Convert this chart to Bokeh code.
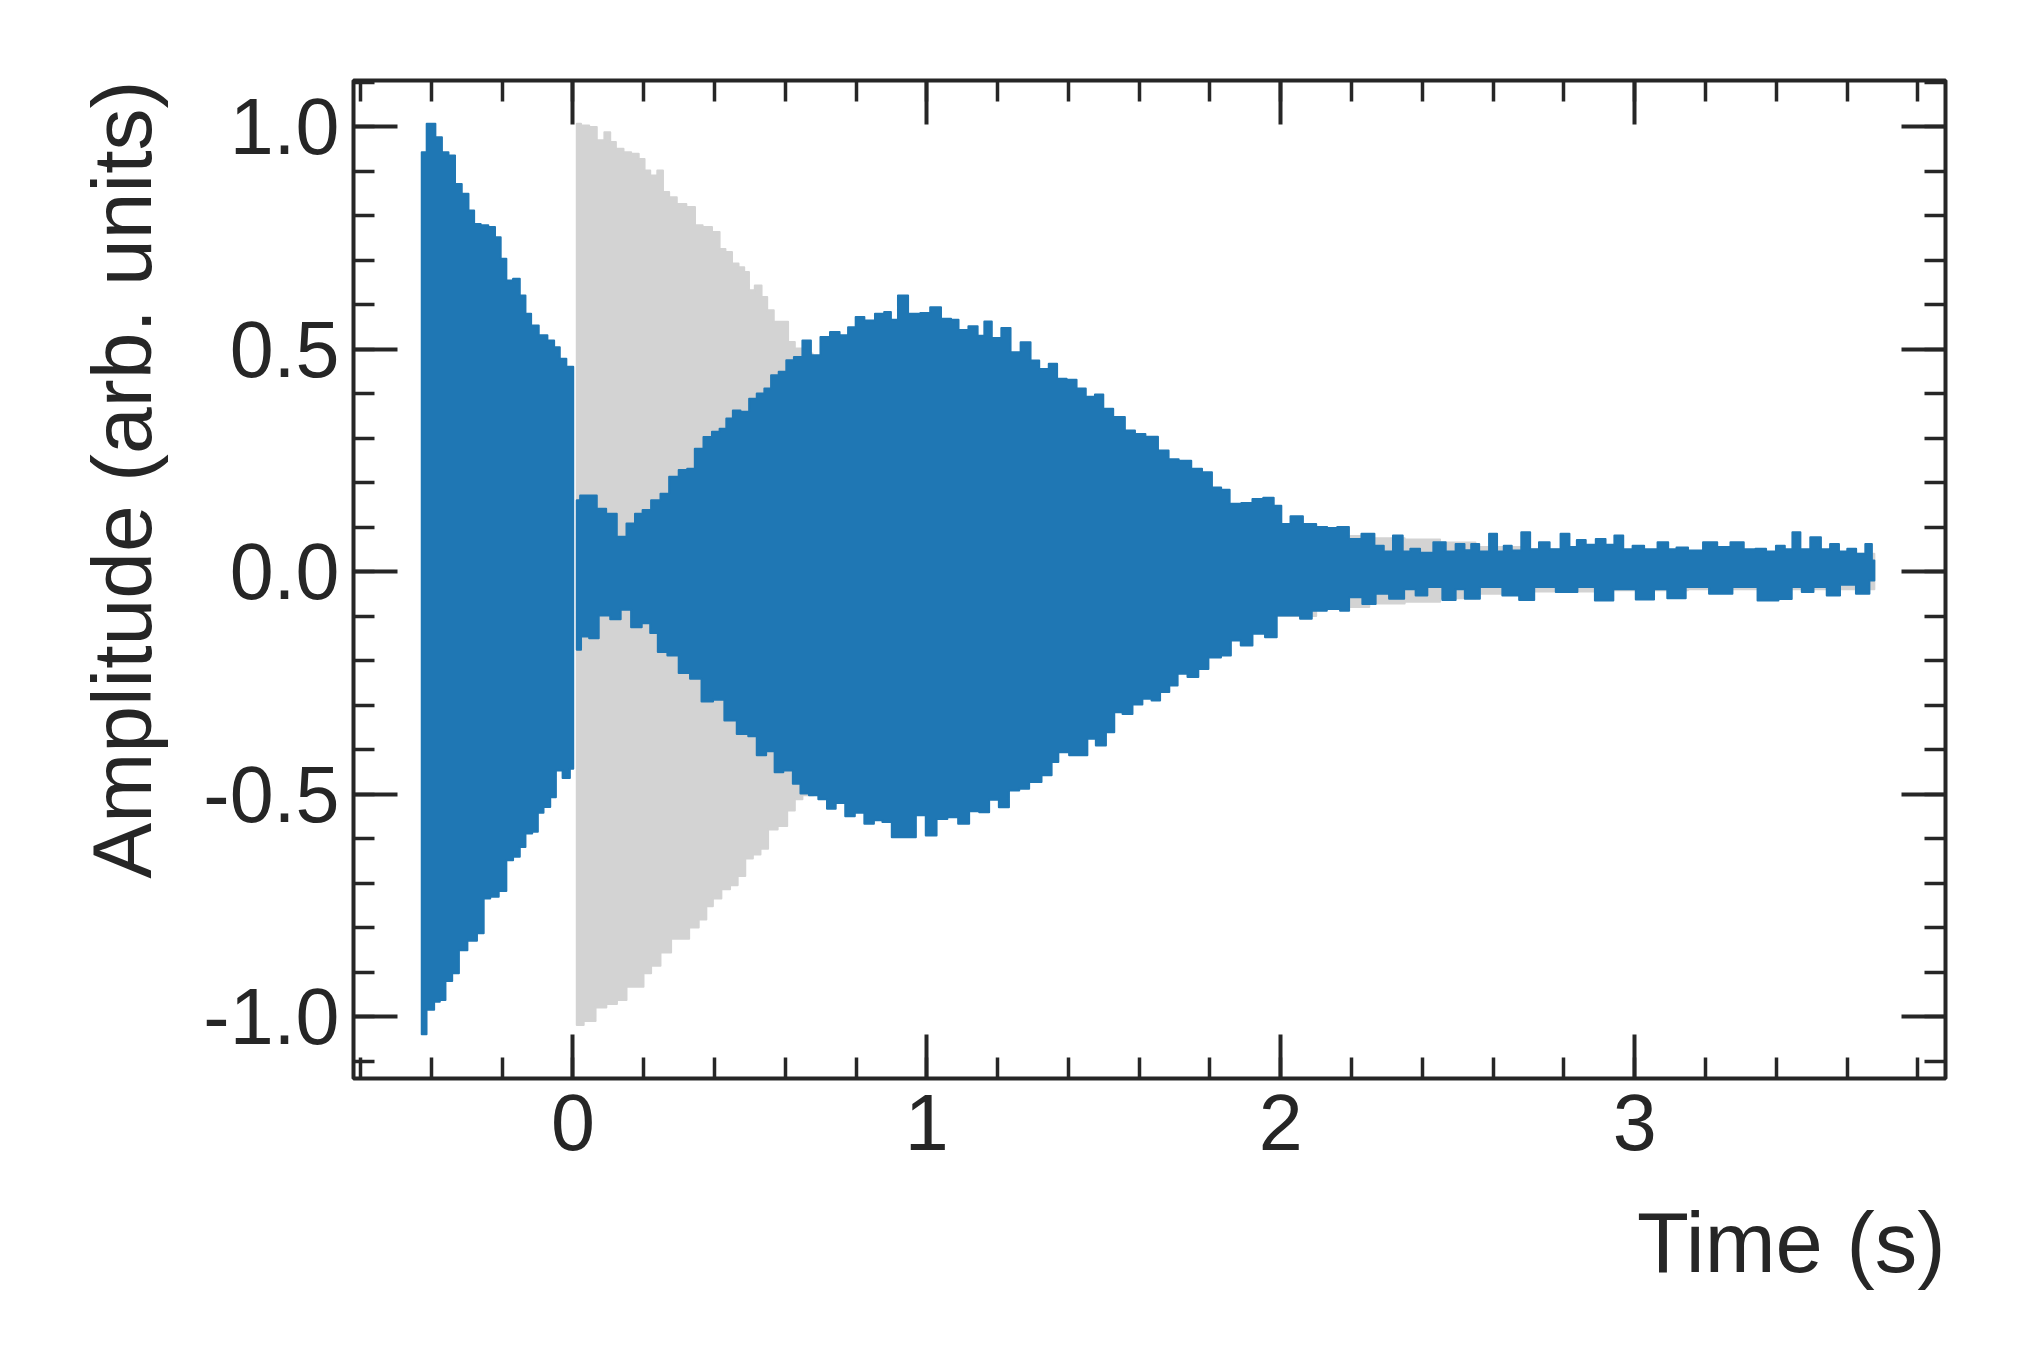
import numpy as np
from bokeh.plotting import figure
from bokeh.models import Range1d, FixedTicker, LinearAxis, Title, CustomJSTickFormatter
from bokeh.embed import file_html
from bokeh.resources import INLINE

# ---------------- data (envelopes) ----------------
# Blue signal, part before t = 0
blue_pre_t_up = [-0.427, -0.399, -0.378, -0.362, -0.341, -0.325, -0.303, -0.287, -0.271, -0.250,
                 -0.228, -0.212, -0.196, -0.180, -0.158, -0.142, -0.126, -0.110, -0.083, -0.061,
                 -0.045, -0.029, -0.008, 0.001]
blue_pre_up = [0.942, 1.006, 0.976, 0.942, 0.935, 0.871, 0.849, 0.811, 0.781, 0.778,
               0.774, 0.751, 0.703, 0.654, 0.658, 0.620, 0.579, 0.553, 0.531, 0.519,
               0.504, 0.478, 0.460, 0.460]
blue_pre_t_lo = [-0.427, -0.400, -0.384, -0.368, -0.352, -0.330, -0.314, -0.282, -0.260, -0.244,
                 -0.223, -0.196, -0.180, -0.158, -0.142, -0.126, -0.104, -0.094, -0.072, -0.056,
                 -0.040, -0.018, 0.001]
blue_pre_lo = [-1.040, -0.985, -0.967, -0.963, -0.920, -0.903, -0.851, -0.830, -0.813, -0.735,
               -0.731, -0.718, -0.649, -0.641, -0.619, -0.589, -0.585, -0.542, -0.529, -0.507,
               -0.447, -0.464, -0.443]

# Blue signal, part after t = 0
blue_post_t_up = [0.011, 0.030, 0.057, 0.078, 0.110, 0.138, 0.165, 0.186, 0.208, 0.234,
                  0.261, 0.283, 0.315, 0.331, 0.358, 0.380, 0.406, 0.423, 0.444, 0.460,
                  0.487, 0.509, 0.530, 0.552, 0.568, 0.595, 0.611, 0.638, 0.659, 0.686,
                  0.713, 0.740, 0.767, 0.788, 0.810, 0.837, 0.870, 0.889, 0.908, 0.929,
                  0.965, 0.998, 1.021, 1.059, 1.078, 1.101, 1.134, 1.153, 1.172, 1.195,
                  1.226, 1.247, 1.283, 1.303, 1.332, 1.357, 1.379, 1.411, 1.435, 1.463,
                  1.487, 1.510, 1.543, 1.576, 1.600, 1.635, 1.671, 1.695, 1.728, 1.766,
                  1.789, 1.822, 1.841, 1.870, 1.907, 1.933, 1.968, 1.992, 2.011, 2.044,
                  2.081, 2.119, 2.143, 2.176, 2.209, 2.247, 2.282, 2.300, 2.334, 2.355,
                  2.377, 2.410, 2.452, 2.480, 2.508, 2.530, 2.546, 2.575, 2.602, 2.620,
                  2.640, 2.665, 2.694, 2.715, 2.744, 2.775, 2.806, 2.825, 2.848, 2.875,
                  2.905, 2.930, 2.955, 2.980, 3.008, 3.045, 3.084, 3.105, 3.131, 3.170,
                  3.216, 3.250, 3.291, 3.325, 3.357, 3.385, 3.413, 3.435, 3.456, 3.480,
                  3.512, 3.540, 3.564, 3.590, 3.611, 3.640, 3.663, 3.677]
blue_post_up = [0.160, 0.171, 0.171, 0.141, 0.130, 0.078, 0.108, 0.130, 0.138, 0.160,
                0.175, 0.213, 0.228, 0.231, 0.276, 0.302, 0.314, 0.321, 0.344, 0.362,
                0.359, 0.388, 0.400, 0.411, 0.441, 0.449, 0.475, 0.482, 0.519, 0.486,
                0.527, 0.538, 0.531, 0.549, 0.572, 0.564, 0.579, 0.583, 0.566, 0.620,
                0.579, 0.581, 0.594, 0.568, 0.566, 0.543, 0.551, 0.530, 0.562, 0.525,
                0.547, 0.493, 0.515, 0.474, 0.455, 0.467, 0.433, 0.431, 0.411, 0.393,
                0.398, 0.366, 0.347, 0.317, 0.309, 0.303, 0.272, 0.252, 0.249, 0.231,
                0.223, 0.189, 0.184, 0.152, 0.154, 0.163, 0.166, 0.148, 0.107, 0.124,
                0.107, 0.100, 0.098, 0.100, 0.073, 0.085, 0.058, 0.045, 0.081, 0.045,
                0.051, 0.042, 0.066, 0.045, 0.062, 0.048, 0.062, 0.045, 0.085, 0.045,
                0.058, 0.047, 0.088, 0.050, 0.066, 0.050, 0.085, 0.055, 0.071, 0.060,
                0.073, 0.060, 0.081, 0.050, 0.058, 0.050, 0.066, 0.050, 0.054, 0.047,
                0.066, 0.055, 0.066, 0.050, 0.051, 0.045, 0.058, 0.050, 0.088, 0.050,
                0.077, 0.050, 0.062, 0.045, 0.051, 0.040, 0.062, 0.025]
blue_post_t_lo = [0.011, 0.035, 0.057, 0.089, 0.122, 0.148, 0.181, 0.208, 0.229, 0.251,
                  0.283, 0.315, 0.347, 0.380, 0.412, 0.444, 0.482, 0.509, 0.530, 0.562,
                  0.578, 0.611, 0.632, 0.654, 0.680, 0.707, 0.729, 0.756, 0.783, 0.810,
                  0.837, 0.864, 0.885, 0.917, 0.955, 0.983, 1.011, 1.044, 1.072, 1.105,
                  1.134, 1.162, 1.190, 1.217, 1.247, 1.275, 1.303, 1.345, 1.360, 1.383,
                  1.421, 1.444, 1.463, 1.492, 1.520, 1.539, 1.567, 1.595, 1.623, 1.647,
                  1.671, 1.699, 1.718, 1.755, 1.779, 1.812, 1.850, 1.868, 1.906, 1.934,
                  1.977, 2.000, 2.038, 2.071, 2.104, 2.156, 2.179, 2.207, 2.254, 2.282,
                  2.330, 2.367, 2.395, 2.433, 2.480, 2.508, 2.532, 2.593, 2.659, 2.688,
                  2.744, 2.810, 2.866, 2.909, 2.970, 3.036, 3.073, 3.111, 3.177, 3.243,
                  3.309, 3.385, 3.427, 3.460, 3.484, 3.526, 3.559, 3.601, 3.649, 3.677]
blue_post_lo = [-0.176, -0.146, -0.150, -0.099, -0.107, -0.086, -0.125, -0.116, -0.138, -0.181,
                -0.189, -0.228, -0.241, -0.292, -0.288, -0.335, -0.365, -0.370, -0.413, -0.404,
                -0.451, -0.447, -0.477, -0.499, -0.503, -0.512, -0.533, -0.520, -0.550, -0.542,
                -0.567, -0.559, -0.563, -0.597, -0.597, -0.548, -0.593, -0.556, -0.552, -0.567,
                -0.539, -0.541, -0.513, -0.530, -0.492, -0.488, -0.473, -0.458, -0.428, -0.406,
                -0.413, -0.413, -0.376, -0.391, -0.361, -0.316, -0.320, -0.299, -0.286, -0.290,
                -0.271, -0.256, -0.230, -0.237, -0.219, -0.193, -0.189, -0.155, -0.166, -0.140,
                -0.148, -0.099, -0.099, -0.106, -0.088, -0.084, -0.088, -0.058, -0.073, -0.050,
                -0.061, -0.040, -0.054, -0.035, -0.064, -0.040, -0.061, -0.035, -0.054, -0.064,
                -0.035, -0.046, -0.035, -0.065, -0.040, -0.063, -0.040, -0.060, -0.035, -0.050,
                -0.035, -0.065, -0.062, -0.035, -0.046, -0.035, -0.054, -0.030, -0.050, -0.020]

# Grey reference signal (starts at t = 0)
grey_t_up = [0.011, 0.035, 0.057, 0.078, 0.100, 0.111, 0.132, 0.154, 0.175, 0.197,
             0.208, 0.229, 0.248, 0.261, 0.283, 0.304, 0.337, 0.353, 0.380, 0.406,
             0.423, 0.439, 0.460, 0.476, 0.492, 0.503, 0.525, 0.541, 0.557, 0.578,
             0.600, 0.616, 0.638, 0.654, 0.700, 0.800, 0.900, 1.000, 1.200, 1.400,
             1.600, 1.800, 2.000, 2.200, 2.300, 2.400, 2.500, 2.600, 2.800, 3.000,
             3.300, 3.677]
grey_up = [1.006, 1.002, 0.999, 0.969, 0.987, 0.965, 0.950, 0.942, 0.939, 0.927,
           0.901, 0.890, 0.901, 0.853, 0.841, 0.826, 0.819, 0.778, 0.774, 0.763,
           0.725, 0.718, 0.692, 0.684, 0.673, 0.632, 0.643, 0.617, 0.587, 0.561,
           0.561, 0.516, 0.501, 0.490, 0.470, 0.420, 0.380, 0.340, 0.280, 0.220,
           0.180, 0.130, 0.100, 0.080, 0.075, 0.072, 0.065, 0.055, 0.050, 0.045,
           0.042, 0.040]
grey_t_lo = [0.011, 0.050, 0.078, 0.111, 0.138, 0.165, 0.191, 0.208, 0.234, 0.261,
             0.294, 0.315, 0.342, 0.369, 0.385, 0.406, 0.433, 0.455, 0.476, 0.498,
             0.519, 0.541, 0.562, 0.595, 0.616, 0.638, 0.659, 0.700, 0.800, 0.900,
             1.000, 1.200, 1.400, 1.600, 1.800, 2.000, 2.200, 2.300, 2.400, 2.500,
             2.600, 2.800, 3.000, 3.300, 3.677]
grey_lo = [-1.019, -1.010, -0.980, -0.972, -0.963, -0.933, -0.933, -0.903, -0.886, -0.856,
           -0.825, -0.825, -0.800, -0.782, -0.752, -0.735, -0.714, -0.705, -0.684, -0.645,
           -0.636, -0.623, -0.580, -0.572, -0.537, -0.512, -0.503, -0.480, -0.430, -0.380,
           -0.340, -0.280, -0.220, -0.180, -0.130, -0.100, -0.080, -0.072, -0.068, -0.060,
           -0.050, -0.045, -0.042, -0.040, -0.040]

# Axes / ticks
x_major = [0, 1, 2, 3]
x_major_labels = ["0", "1", "2", "3"]
y_major = [-1.0, -0.5, 0.0, 0.5, 1.0]
y_major_labels = ["-1.0", "-0.5", "0.0", "0.5", "1.0"]
x_label = "Time (s)"
y_label = "Amplitude (arb. units)"

# ---------------- styling ----------------
BLUE = "#1f77b4"
GREY = "#d3d3d3"
INK = "#262626"
FONT = "Liberation Sans"


def step_curve(t, y):
    t = np.asarray(t, dtype=float)
    y = np.asarray(y, dtype=float)
    edges = np.concatenate([[t[0]], (t[:-1] + t[1:]) / 2.0, [t[-1]]])
    xs = np.repeat(edges, 2)[1:-1]
    ys = np.repeat(y, 2)
    return xs, ys


def envelope_patch(t_up, up, t_lo, lo):
    xu, yu = step_curve(t_up, up)
    xl, yl = step_curve(t_lo, lo)
    return np.concatenate([xu, xl[::-1]]), np.concatenate([yu, yl[::-1]])


p = figure(width=2000, height=1350, output_backend="svg", toolbar_location=None,
           x_range=Range1d(-0.6198, 3.878), y_range=Range1d(-1.1393, 1.1034),
           min_border_left=353, min_border_right=55, min_border_top=80, min_border_bottom=272)
p.title.visible = False
p.xgrid.visible = False
p.ygrid.visible = False
p.background_fill_color = "white"
p.border_fill_color = "white"
p.outline_line_color = INK
p.outline_line_width = 4

gx, gy = envelope_patch(grey_t_up, grey_up, grey_t_lo, grey_lo)
p.patch(gx, gy, fill_color=GREY, line_color=GREY, line_width=2, line_join="round")
bx, by = envelope_patch(blue_pre_t_up, blue_pre_up, blue_pre_t_lo, blue_pre_lo)
p.patch(bx, by, fill_color=BLUE, line_color=BLUE, line_width=2, line_join="round")
bx2, by2 = envelope_patch(blue_post_t_up, blue_post_up, blue_post_t_lo, blue_post_lo)
p.patch(bx2, by2, fill_color=BLUE, line_color=BLUE, line_width=2, line_join="round")

x_minor = [round(v, 2) for v in np.arange(-0.6, 3.81, 0.2)]
y_minor = [round(v, 2) for v in np.arange(-1.1, 1.101, 0.1)]
xticker = FixedTicker(ticks=x_major, minor_ticks=x_minor)
yticker = FixedTicker(ticks=y_major, minor_ticks=y_minor)


def style_axis(ax, ticker):
    ax.ticker = ticker
    ax.axis_line_color = None
    ax.major_tick_in = 44
    ax.major_tick_out = 0
    ax.minor_tick_in = 21
    ax.minor_tick_out = 0
    ax.major_tick_line_color = INK
    ax.minor_tick_line_color = INK
    ax.major_tick_line_width = 4
    ax.minor_tick_line_width = 3.5
    ax.major_label_text_font = FONT
    ax.major_label_text_color = INK
    ax.major_label_text_font_size = "79px"


xa = p.xaxis[0]
style_axis(xa, xticker)
xa.major_label_overrides = {v: s for v, s in zip(x_major, x_major_labels)}
xa.major_label_standoff = 16

ya = p.yaxis[0]
style_axis(ya, yticker)
ya.major_label_overrides = {v: s for v, s in zip(y_major, y_major_labels)}
ya.major_label_standoff = 14

empty = CustomJSTickFormatter(code="return ''")
for side, tk in (("above", xticker), ("right", yticker)):
    ax = LinearAxis(formatter=empty)
    style_axis(ax, tk)
    ax.major_label_text_font_size = "0px"
    ax.major_label_standoff = 0
    p.add_layout(ax, side)

xt = Title(text=x_label, align="right", text_font=FONT, text_font_size="85px",
           text_font_style="normal", text_color=INK, standoff=80)
p.add_layout(xt, "below")
yt = Title(text=y_label, align="right", text_font=FONT, text_font_size="84px",
           text_font_style="normal", text_color=INK, standoff=64)
p.add_layout(yt, "left")

open("out.html", "w").write(file_html(p, INLINE))
